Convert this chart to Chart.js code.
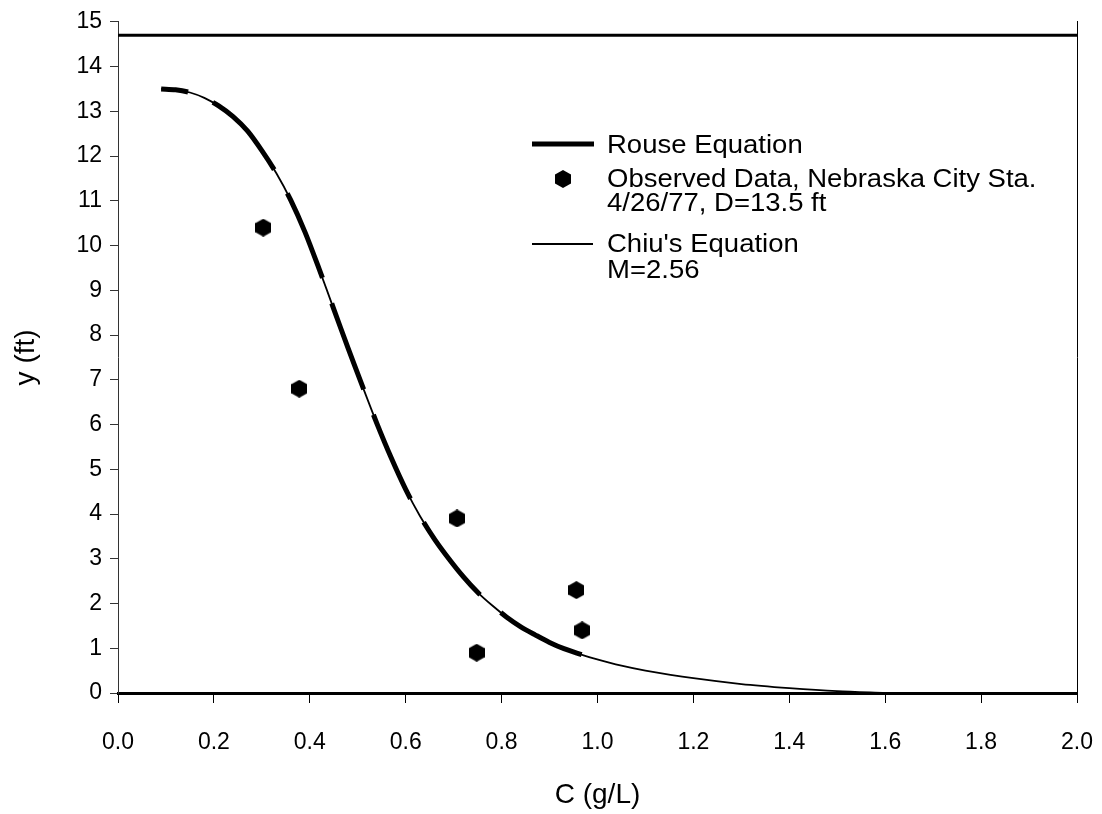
<!DOCTYPE html>
<html>
<head>
<meta charset="utf-8">
<script src="https://cdn.jsdelivr.net/npm/chart.js@4.4.1/dist/chart.umd.min.js"></script>
<style>
  body { margin: 0; background: #fff; }
  #wrap { width: 1102px; height: 814px; }
</style>
</head>
<body>
<div id="wrap"><canvas id="chart" width="1102" height="814"></canvas></div>
<script>
// Chiu's equation (thin line), C in g/L vs y in ft
var chiuC = [0.09, 0.12, 0.15, 0.18, 0.21, 0.24, 0.27, 0.30, 0.33, 0.36, 0.39, 0.42, 0.45, 0.48, 0.51, 0.54, 0.57, 0.60, 0.63, 0.66, 0.69, 0.72, 0.75, 0.78, 0.81, 0.84, 0.87, 0.90, 0.93, 0.96, 0.99, 1.05, 1.10, 1.20, 1.30, 1.40, 1.50, 1.60];
var chiuY = [13.50, 13.48, 13.42, 13.30, 13.12, 12.88, 12.56, 12.12, 11.62, 11.02, 10.30, 9.46, 8.58, 7.70, 6.85, 6.02, 5.25, 4.55, 3.95, 3.44, 3.00, 2.60, 2.25, 1.96, 1.70, 1.48, 1.30, 1.13, 0.99, 0.88, 0.78, 0.61, 0.50, 0.33, 0.20, 0.11, 0.04, 0.00];

// Rouse equation (thick line)
var rouseC = [0.09, 0.12, 0.15, 0.18, 0.21, 0.24, 0.27, 0.30, 0.33, 0.36, 0.39, 0.42, 0.45, 0.48, 0.51, 0.54, 0.57, 0.60, 0.63, 0.66, 0.69, 0.72, 0.75, 0.78, 0.81, 0.84, 0.87, 0.90, 0.93, 0.96, 0.99];
var rouseY = [13.50, 13.48, 13.42, 13.30, 13.12, 12.88, 12.56, 12.12, 11.62, 11.02, 10.30, 9.46, 8.58, 7.70, 6.85, 6.02, 5.25, 4.55, 3.95, 3.44, 3.00, 2.60, 2.25, 1.96, 1.70, 1.48, 1.30, 1.13, 0.99, 0.88, 0.78];

// Observed data, Nebraska City Sta. 4/26/77
var obsC = [0.303, 0.378, 0.707, 0.748, 0.956, 0.968];
var obsY = [10.4, 6.8, 3.9, 0.9, 2.3, 1.4];

// water surface line
var surfaceY = 14.7;

var xTicks = [0.0, 0.2, 0.4, 0.6, 0.8, 1.0, 1.2, 1.4, 1.6, 1.8, 2.0];
var yTicks = [0, 1, 2, 3, 4, 5, 6, 7, 8, 9, 10, 11, 12, 13, 14, 15];

function toPoints(xs, ys) {
    return xs.map(function(x, i) { return { x: x, y: ys[i] }; });
}

// hexagon marker
function makeHex(w, h) {
    var c = document.createElement('canvas');
    c.width = w; c.height = h;
    var g = c.getContext('2d');
    g.fillStyle = '#000';
    g.beginPath();
    g.moveTo(w / 2, 0);
    g.lineTo(w, h * 0.25);
    g.lineTo(w, h * 0.75);
    g.lineTo(w / 2, h);
    g.lineTo(0, h * 0.75);
    g.lineTo(0, h * 0.25);
    g.closePath();
    g.fill();
    return c;
}
var hex = makeHex(16, 18);

var FONT = "'Liberation Sans', Arial, sans-serif";

// legend drawn inside the plot
var legendPlugin = {
    id: 'innerLegend',
    afterDraw: function(chart) {
        var ctx = chart.ctx;
        ctx.save();
        ctx.strokeStyle = '#000';
        ctx.fillStyle = '#000';
        ctx.lineWidth = 5;
        ctx.beginPath(); ctx.moveTo(532, 144); ctx.lineTo(594, 144); ctx.stroke();
        ctx.lineWidth = 2;
        ctx.beginPath(); ctx.moveTo(532, 244); ctx.lineTo(593, 244); ctx.stroke();
        ctx.drawImage(hex, 555, 170);
        ctx.translate(607, 0);
        ctx.scale(1.1, 1);
        ctx.font = '25px ' + FONT;
        ctx.textBaseline = 'alphabetic';
        ctx.fillText('Rouse Equation', 0, 153);
        ctx.fillText('Observed Data, Nebraska City Sta.', 0, 187);
        ctx.fillText('4/26/77, D=13.5 ft', 0, 211);
        ctx.fillText("Chiu's Equation", 0, 252);
        ctx.fillText('M=2.56', 0, 278);
        ctx.restore();
    }
};

var ctx = document.getElementById('chart').getContext('2d');
var chart = new Chart(ctx, {
    type: 'scatter',
    data: {
        datasets: [{
            label: 'Surface',
            data: [{ x: xTicks[0], y: surfaceY }, { x: xTicks[xTicks.length - 1], y: surfaceY }],
            showLine: true,
            borderColor: '#000',
            borderWidth: 3,
            pointRadius: 0
        }, {
            label: "Chiu's Equation",
            data: toPoints(chiuC, chiuY),
            showLine: true,
            borderColor: '#000',
            borderWidth: 1.8,
            pointRadius: 0,
            tension: 0.3
        }, {
            label: 'Rouse Equation',
            data: toPoints(rouseC, rouseY),
            showLine: true,
            borderColor: '#000',
            borderWidth: 5,
            borderDash: [92, 27],
            borderDashOffset: 65,
            pointRadius: 0,
            tension: 0.3
        }, {
            label: 'Observed Data',
            data: toPoints(obsC, obsY),
            pointStyle: hex,
            pointRadius: 9,
            showLine: false
        }]
    },
    options: {
        responsive: false,
        animation: false,
        layout: { padding: { top: 19, right: 25, left: 0, bottom: 0 } },
        plugins: {
            legend: { display: false },
            tooltip: { enabled: false }
        },
        scales: {
            x: {
                type: 'linear',
                min: 0,
                max: 2,
                afterFit: function(scale) {
                    scale.height = 121;
                    scale.paddingRight = 0;
                    scale.paddingLeft = 0;
                },
                afterBuildTicks: function(scale) {
                    scale.ticks = xTicks.map(function(v) { return { value: v }; });
                },
                ticks: {
                    color: '#000',
                    padding: 26,
                    font: { size: 23, family: FONT },
                    callback: function(v) { return Number(v).toFixed(1); }
                },
                grid: { drawOnChartArea: false, tickLength: 10, color: '#000' },
                border: { color: '#000', width: 3 },
                title: {
                    display: true,
                    text: 'C (g/L)',
                    color: '#000',
                    font: { size: 28, family: FONT },
                    padding: { bottom: 2, top: 0 }
                }
            },
            y: {
                type: 'linear',
                min: 0,
                max: 15,
                afterFit: function(scale) { scale.width = 118; },
                afterBuildTicks: function(scale) {
                    scale.ticks = yTicks.map(function(v) { return { value: v }; });
                },
                ticks: {
                    color: '#000',
                    padding: 8,
                    font: { size: 23, family: FONT }
                },
                grid: { drawOnChartArea: false, tickLength: 8, color: '#333' },
                border: { color: '#333', width: 1 },
                title: {
                    display: true,
                    text: 'y (ft)',
                    color: '#000',
                    font: { size: 28, family: FONT },
                    padding: { top: 9, bottom: 0 }
                }
            },
            y2: {
                type: 'linear',
                position: 'right',
                min: 0,
                max: 15,
                afterFit: function(scale) { scale.width = 0; },
                ticks: { display: false },
                grid: { drawOnChartArea: false, drawTicks: false },
                border: { color: '#000', width: 1 }
            }
        }
    },
    plugins: [legendPlugin]
});
</script>
</body>
</html>
